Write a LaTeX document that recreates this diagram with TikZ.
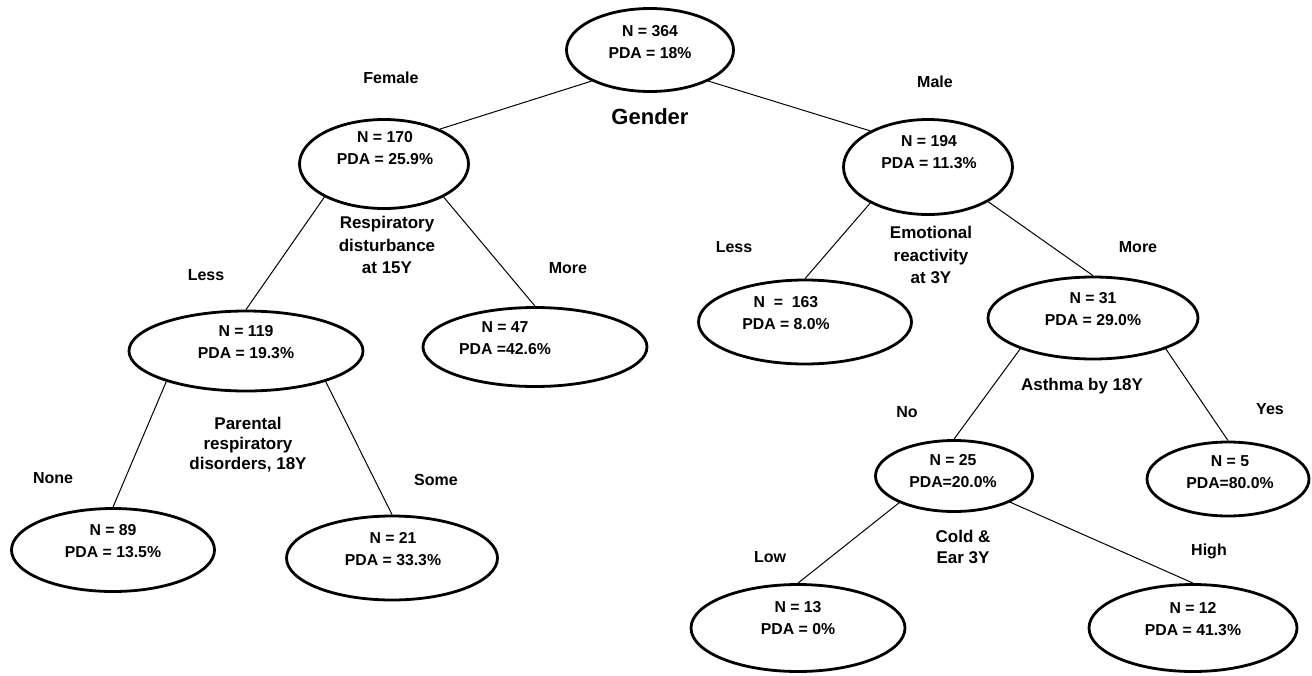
\documentclass[tikz,border=0pt]{standalone}
\usepackage{fontspec}
\setmainfont{Liberation Sans}
\usetikzlibrary{shapes.geometric}
\begin{document}
\begin{tikzpicture}[x=0.5pt,y=-0.5pt,
  ell/.style={draw, ellipse, line width=1.4pt, inner sep=0pt},
  nt/.style={align=center, font=\fontsize{7.9}{11}\selectfont\bfseries, inner sep=0pt},
  lab/.style={font=\fontsize{8}{11}\selectfont\bfseries, inner sep=0pt},
  split/.style={align=center, font=\fontsize{8.5}{11.25}\selectfont\bfseries, inner sep=0pt},
  conn/.style={line width=0.5pt}]
\useasboundingbox (0,0) rectangle (1312,675);

% ellipses
\node[ell, minimum width=83.5pt, minimum height=41.5pt] (root) at (650,50) {};
\node[ell, minimum width=84.5pt, minimum height=44.5pt] (n170) at (384,164) {};
\node[ell, minimum width=84.5pt, minimum height=47.5pt] (n194) at (928,167) {};
\node[ell, minimum width=117pt, minimum height=40pt] (n119) at (246,351) {};
\node[ell, minimum width=112pt, minimum height=39.5pt] (n47) at (535,347) {};
\node[ell, minimum width=106.5pt, minimum height=42pt] (n163) at (805,322) {};
\node[ell, minimum width=105pt, minimum height=41pt] (n31) at (1093,318) {};
\node[ell, minimum width=101.5pt, minimum height=41.5pt] (n89) at (113,550) {};
\node[ell, minimum width=105.5pt, minimum height=42pt] (n21) at (392,558) {};
\node[ell, minimum width=78.5pt, minimum height=35.5pt] (n25) at (954,476) {};
\node[ell, minimum width=81pt, minimum height=37pt] (n5) at (1228,479) {};
\node[ell, minimum width=107pt, minimum height=43.5pt] (n13) at (798,628) {};
\node[ell, minimum width=104pt, minimum height=43.5pt] (n12) at (1193,628) {};

% node texts
\node[nt] (troot) at (650,42) {N = 364\\PDA = 18\%};
\node[nt] (t170) at (385,148) {N = 170\\PDA = 25.9\%};
\node[nt] (t194) at (929,152) {N = 194\\PDA = 11.3\%};
\node[nt] (t119) at (246,342) {N = 119\\PDA = 19.3\%};
\node[nt] (t47) at (505,338) {N = 47\\PDA =42.6\%};
\node[nt] (t163) at (786,313) {N~~=~~163\\PDA = 8.0\%};
\node[nt] (t31) at (1093,309) {N = 31\\PDA = 29.0\%};
\node[nt] (t89) at (113,541) {N = 89\\PDA = 13.5\%};
\node[nt] (t21) at (393,549) {N = 21\\PDA = 33.3\%};
\node[nt] (t25) at (953,471) {N = 25\\PDA=20.0\%};
\node[nt] (t5) at (1230,472) {N = 5\\PDA=80.0\%};
\node[nt] (t13) at (798,618) {N = 13\\PDA = 0\%};
\node[nt] (t12) at (1193,619) {N = 12\\PDA = 41.3\%};

% connectors
\draw[conn] (root.208) -- (n170.32);
\draw[conn] (root.332) -- (n194.148);
\draw[conn] (n170.209) -- (n119.north);
\draw[conn] (n170.331) -- (n47.north);
\draw[conn] (n194.212) -- (n163.north);
\draw[conn] (n194.330) -- (n31.north);
\draw[conn] (n119.201) -- (n89.north);
\draw[conn] (n119.339) -- (n21.north);
\draw[conn] (n31.203) -- (n25.north);
\draw[conn] (n31.337) -- (n5.north);
\draw[conn] (n25.206) -- (n13.north);
\draw[conn] (n25.335) -- (n12.north);

% labels
\node[font=\fontsize{11}{13}\selectfont\bfseries, inner sep=0pt] (gender) at (650,117) {Gender};
\node[lab] (lfemale) at (391,78) {Female};
\node[lab] (lmale) at (935,82) {Male};
\node[split] (sresp) at (387,245) {Respiratory\\disturbance\\at 15Y};
\node[lab] (lless1) at (206,275) {Less};
\node[lab] (lmore1) at (568,268) {More};
\node[split] (semo) at (931,255) {Emotional\\reactivity\\at 3Y};
\node[lab] (lless2) at (734,247) {Less};
\node[lab] (lmore2) at (1138,247) {More};
\node[split, font=\fontsize{8.5}{10}\selectfont\bfseries] (spar) at (248,445) {Parental\\respiratory\\disorders, 18Y};
\node[lab] (lnone) at (53,478) {None};
\node[lab] (lsome) at (436,480) {Some};
\node[split] (sasth) at (1082,386) {Asthma by 18Y};
\node[lab] (lno) at (907,412) {No};
\node[lab] (lyes) at (1270,409) {Yes};
\node[split, font=\fontsize{8.5}{10.5}\selectfont\bfseries] (scold) at (963,547) {Cold \&\\Ear 3Y};
\node[lab] (llow) at (770,557) {Low};
\node[lab] (lhigh) at (1209,551) {High};
\end{tikzpicture}
\end{document}
